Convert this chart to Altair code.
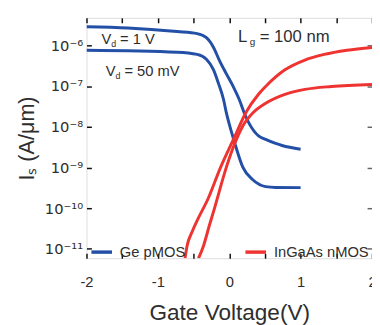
import altair as alt
import pandas as pd
import math

# ---------------- data ----------------
ge_1v_v = [-2.0, -1.42, -0.73, -0.45, -0.32, -0.22, -0.14, -0.04, 0.055, 0.14, 0.21, 0.28, 0.41, 0.51, 0.65, 0.74, 1.0]
ge_1v_i = [2.88e-6, 2.69e-6, 2.19e-6, 1.95e-6, 1.55e-6, 8.9e-7, 4.37e-7, 2.0e-7, 9.8e-8, 4.68e-8,
           2.19e-8, 1.2e-8, 6.0e-9, 4.9e-9, 3.9e-9, 3.47e-9, 2.82e-9]

ge_50_v = [-2.0, -0.73, -0.45, -0.32, -0.22, -0.15, -0.08, -0.04, 0.027, 0.096, 0.19, 0.33, 0.51, 0.65, 1.0]
ge_50_i = [7.6e-7, 6.8e-7, 6.0e-7, 4.57e-7, 2.51e-7, 1.15e-7, 4.68e-8, 2.19e-8, 7.9e-9, 3.09e-9,
           1.02e-9, 5.0e-10, 3.39e-10, 3.24e-10, 3.2e-10]

ig_hi_v = [-0.62, -0.59, -0.52, -0.44, -0.30, -0.12, 0.07, 0.23, 0.41, 0.51, 0.78, 1.06, 1.33, 1.65, 2.0]
ig_hi_i = [5.9e-12, 1.2e-11, 2.63e-11, 5.4e-11, 1.66e-10, 1.02e-9, 5.4e-9, 2.19e-8, 6.3e-8, 9.8e-8,
           2.51e-7, 4.37e-7, 6.0e-7, 7.6e-7, 8.9e-7]

ig_lo_v = [-0.43, -0.36, -0.28, -0.21, -0.04, 0.055, 0.19, 0.33, 0.51, 0.78, 1.06, 1.43, 2.0]
ig_lo_i = [5.9e-12, 1.2e-11, 3.7e-11, 9.5e-11, 1.02e-9, 3.09e-9, 1.05e-8, 2.19e-8, 3.8e-8,
           6.3e-8, 8.3e-8, 9.8e-8, 1.1e-7]

devices = ["Ge pMOS", "InGaAs nMOS"]
colors = ["#2350a6", "#ee3330"]

x_label_values = [-2, -1, 0, 1, 2]
x_tick_values = [-2, -1.5, -1, -0.5, 0, 0.5, 1, 1.5, 2]
y_tick_values = [1e-11, 1e-10, 1e-9, 1e-8, 1e-7, 1e-6]
y_tick_labels = ["10⁻¹¹", "10⁻¹⁰", "10⁻⁹", "10⁻⁸", "10⁻⁷", "10⁻⁶"]
x_domain = [-2, 2]
y_domain = [5.9e-12, 4.75e-6]

# annotations: text, x (V), y (A/um), subscript
ann_text = ["V", "V", "L"]
ann_sub = ["d", "d", "g"]
ann_rest = ["= 1 V", "= 50 mV", "= 100 nm"]
ann_x = [-1.79, -1.73, 0.124]
ann_y = [1.07e-6, 1.79e-7, 1.23e-6]
ann_size = [15, 15, 17]

# ---------------- build table ----------------
rows = []
for name, dev, vs, iss in [("ge1", devices[0], ge_1v_v, ge_1v_i),
                           ("ge50", devices[0], ge_50_v, ge_50_i),
                           ("ighi", devices[1], ig_hi_v, ig_hi_i),
                           ("iglo", devices[1], ig_lo_v, ig_lo_i)]:
    for v, i in zip(vs, iss):
        rows.append({"curve": name, "device": dev, "V": v, "I": i})
df = pd.DataFrame(rows)

FONT = "Liberation Sans"
TXT = "#2e2e2e"

xscale = alt.Scale(domain=x_domain, nice=False, zero=False)
yscale = alt.Scale(type="log", domain=y_domain, nice=False)

label_expr = " : ".join(
    f"round(log(datum.value)/LN10) == {round(math.log10(v))} ? '{l}'"
    for v, l in zip(y_tick_values, y_tick_labels)
) + " : ''"

main_x_axis = alt.Axis(values=x_label_values, ticks=False, domain=False, grid=False,
                       labelExpr="'' + datum.value", labelFontSize=15, labelFont=FONT,
                       labelColor=TXT, labelPadding=17, labelFlush=False,
                       title="Gate Voltage(V)",
                       titleFontSize=23, titleFont=FONT, titleFontWeight="normal",
                       titleColor=TXT, titlePadding=12, orient="bottom")
main_y_axis = alt.Axis(values=y_tick_values, ticks=False, domain=False, grid=False,
                       labelExpr=label_expr, labelFontSize=15, labelFont="DejaVu Sans",
                       labelColor=TXT, labelPadding=4, labelFlush=False,
                       title="Iₛ (A/μm)",
                       titleFontSize=22, titleFont=FONT, titleFontWeight="normal",
                       titleColor=TXT, titlePadding=6, orient="left")

lines = alt.Chart(df).mark_line(strokeWidth=3, interpolate="monotone", clip=True).encode(
    x=alt.X("V:Q", scale=xscale, axis=main_x_axis),
    y=alt.Y("I:Q", scale=yscale, axis=main_y_axis),
    color=alt.Color("device:N", scale=alt.Scale(domain=devices, range=colors),
                    legend=alt.Legend(title=None, orient="none", direction="horizontal",
                                      legendX=3, legendY=226, symbolType="stroke",
                                      symbolSize=441, symbolStrokeWidth=3.5,
                                      labelFontSize=15, labelFont=FONT, labelColor=TXT,
                                      labelOffset=6, columnPadding=54, padding=0)),
    detail="curve:N",
    order="V:Q",
)


def tick_axis(orient, values, color):
    return alt.Axis(orient=orient, values=values, labels=False, domain=False, grid=False,
                    title=None, ticks=True, tickSize=5, tickWidth=1.5, tickColor=color,
                    offset=-5)


ticks_a = alt.Chart(df).mark_point(opacity=0).encode(
    x=alt.X("V:Q", scale=xscale, axis=tick_axis("bottom", x_tick_values, "#111")),
    y=alt.Y("I:Q", scale=yscale, axis=tick_axis("left", y_tick_values, "#111")),
)
ticks_b = alt.Chart(df).mark_point(opacity=0).encode(
    x=alt.X("V:Q", scale=xscale, axis=tick_axis("top", x_tick_values, "#111")),
    y=alt.Y("I:Q", scale=yscale, axis=tick_axis("right", y_tick_values, "#666")),
)

ann = pd.DataFrame({"t": ann_text, "s": ann_sub, "r": ann_rest, "x": ann_x, "y": ann_y,
                    "size": ann_size})

layers = [lines, ticks_a, ticks_b]
for k in range(len(ann_text)):
    d = ann.iloc[[k]]
    fs = ann_size[k]
    base = alt.Chart(d).encode(x=alt.X("x:Q", scale=xscale, axis=None),
                               y=alt.Y("y:Q", scale=yscale, axis=None))
    layers.append(base.mark_text(align="left", baseline="alphabetic", font=FONT,
                                 fontSize=fs, color=TXT).encode(text="t:N"))
    layers.append(base.mark_text(align="left", baseline="alphabetic", font=FONT,
                                 fontSize=round(fs * 0.6), color=TXT,
                                 dx=round(fs * 0.7), dy=3).encode(text="s:N"))
    layers.append(base.mark_text(align="left", baseline="alphabetic", font=FONT,
                                 fontSize=fs, color=TXT,
                                 dx=round(fs * 1.27)).encode(text="r:N"))

chart = alt.layer(*layers).resolve_axis(x="independent", y="independent").properties(
    width=291, height=245,
    autosize=alt.AutoSizeParams(type="none"),
    padding={"left": 80, "top": 7, "right": 0, "bottom": 65},
).configure_view(stroke="#000", strokeWidth=3.5).configure(background="white")

chart.save("out.html", embed_options={"renderer": "svg", "actions": False})
